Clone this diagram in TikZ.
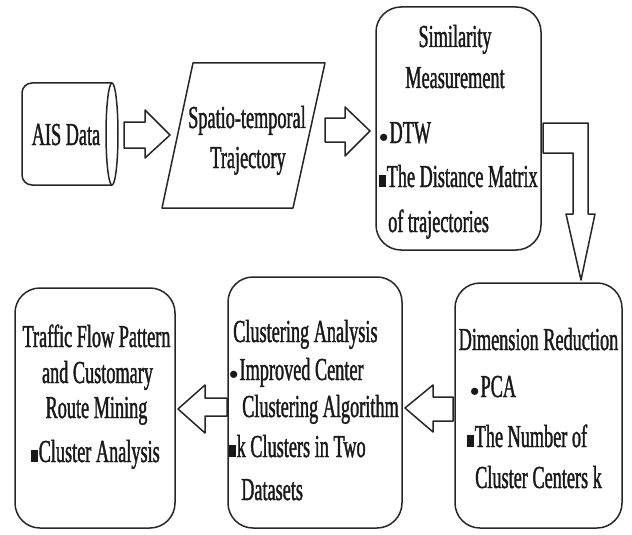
\documentclass[tikz,border=0pt]{standalone}
\usepackage{fontspec}
\setmainfont{Liberation Serif}[FakeStretch=0.57,FakeBold=1.2]
\tikzset{
  x=1pt, y=-1pt,
  outline/.style={draw=black!85, line width=1.5pt, line join=round},
  rbox/.style={outline, rounded corners=25pt, inner sep=0pt},
  txt/.style={inner sep=0pt, font=\fontsize{32}{38}\selectfont, text=black!90},
  lt/.style={txt, anchor=base west},
  ct/.style={txt, anchor=base},
}
\newcommand{\sqb}{\rule[0pt]{6.5pt}{12pt}\kern1pt}
\newcommand{\dotb}{\raisebox{1pt}{\scalebox{0.75}{$\bullet$}}\kern1pt}
\begin{document}
\begin{tikzpicture}
\useasboundingbox (0,0) rectangle (632,535);
% AIS Data drum
\draw[outline, rounded corners=10pt] (112,83) -- (22,83) -- (22,185) -- (112,185);
\draw[outline] (112,134) ellipse [x radius=6, y radius=51];
\node[ct] (ais) at (66,145) {AIS Data};
% parallelogram
\draw[outline] (193,63) coordinate (p1) -- (325,63) -- (293,208) -- (162,208) -- cycle;
\node[ct] (st1) at (247,128) {Spatio-temporal};
\node[ct] (st2) at (248,168) {Trajectory};
% boxes
\node[rbox, minimum width=165pt, minimum height=243pt] (sim) at (458.5,128.5) {};
\node[rbox, minimum width=167pt, minimum height=245pt] (dim) at (538.5,405.5) {};
\node[rbox, minimum width=174pt, minimum height=251pt] (clu) at (315,402.5) {};
\node[rbox, minimum width=160pt, minimum height=240pt] (tra) at (95,408) {};
% similarity text
\node[ct] (s1) at (455,47) {Similarity};
\node[ct] (s2) at (455,88) {Measurement};
\node[lt] (s3) at (379,143) {\dotb DTW};
\node[lt] (s4) at (379,187) {\sqb The Distance Matrix};
\node[lt] (s5) at (388,232) {of trajectories};
% dimension text
\node[ct] (d1) at (538.5,350) {Dimension Reduction};
\node[lt] (d2) at (470,397) {\dotb PCA};
\node[lt] (d3) at (467,447) {\sqb The Number of};
\node[lt] (d4) at (475,488) {Cluster Centers k};
% clustering text
\node[lt] (c1) at (233,342) {Clustering Analysis};
\node[lt] (c2) at (229,380) {\dotb Improved Center};
\node[lt] (c3) at (242,417) {Clustering Algorithm};
\node[lt] (c4) at (229,457) {\sqb k Clusters in Two};
\node[lt] (c5) at (241,500) {Datasets};
% traffic text
\node[ct] (t1) at (96.5,347) {Traffic Flow Pattern};
\node[ct] (t2) at (97.5,383) {and Customary};
\node[ct] (t3) at (96.5,418) {Route Mining};
\node[lt] (t4) at (31,462) {\sqb Cluster Analysis};
% block arrows
\draw[outline] (124,122) -- (145,122) -- (145,110) -- (170,135) -- (145,158) -- (145,148) -- (124,148) -- cycle;
\draw[outline] (325,118) -- (345,118) -- (345,107) -- (370,131) -- (345,156) -- (345,142) -- (325,142) -- cycle;
\draw[outline] (543,123) -- (588,123) -- (588,214) -- (595,214) -- (581,280) -- (566,214) -- (573,214) -- (573,153) -- (543,153) -- cycle;
\draw[outline] (453,397) -- (433,397) -- (433,385) -- (405,408) -- (433,432) -- (433,421) -- (453,421) -- cycle;
\draw[outline] (227,398) -- (205,398) -- (205,385) -- (178,409) -- (205,433) -- (205,416) -- (227,416) -- cycle;
\end{tikzpicture}
\end{document}
